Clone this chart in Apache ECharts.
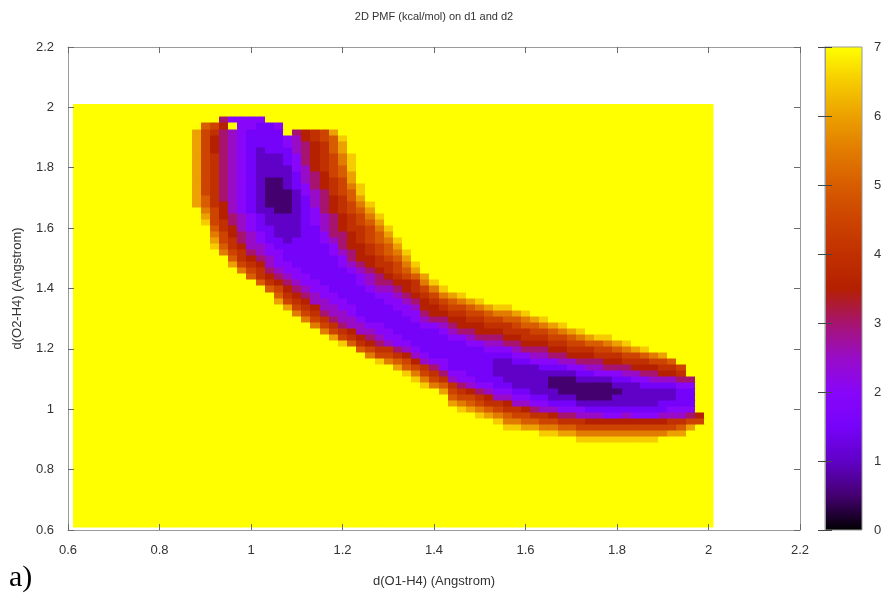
<!DOCTYPE html>
<html>
<head>
<meta charset="utf-8">
<script src="https://cdn.jsdelivr.net/npm/echarts@6/dist/echarts.min.js"></script>
<style>
  html, body { margin: 0; padding: 0; background: #ffffff; }
  #chart { width: 886px; height: 597px; }
</style>
</head>
<body>
<div id="chart"></div>
<script>
// ---------------------------------------------------------------------------
// Axis ticks
// ---------------------------------------------------------------------------
const d1Ticks = [0.6, 0.8, 1.0, 1.2, 1.4, 1.6, 1.8, 2.0, 2.2];   // d(O1-H4)
const d2Ticks = [0.6, 0.8, 1.0, 1.2, 1.4, 1.6, 1.8, 2.0, 2.2];   // d(O2-H4)
const pmfTicks = [0, 1, 2, 3, 4, 5, 6, 7];                      // kcal/mol

// ---------------------------------------------------------------------------
// PMF grid: 70 x 70 bins of 0.02 A, bin centres 0.62 ... 2.00 on both axes.
// Every bin outside the valley sits at the 7 kcal/mol cap.
// Bin values are coded in half kcal/mol: '0' = 0.0, '1' = 0.5 ... 'E' = 7.0
// ---------------------------------------------------------------------------
const pmfGridFirst = 0.62;
const pmfGridStep = 0.02;
const pmfGridCount = 70;
const pmfCap = 7;
const pmfCodes = "0123456789ABCDE";

// upper branch and bend, by rows: [d2, first d1 bin, codes along d1]
const upperArmRows = [
  [1.96, 0.94, "64444"],
  [1.94, 0.90, "A97E44334"],
  [1.92, 0.88, "C986543333E6789C"],
  [1.90, 0.88, "C97654333345789AD"],
  [1.88, 0.88, "C97654333345678AC"],
  [1.86, 0.88, "C97654323335678AC"],
  [1.84, 0.88, "C986543222346789BD"],
  [1.82, 0.88, "C986543222346789BD"],
  [1.80, 0.88, "C986543222245789AD"],
  [1.78, 0.88, "C986543222235679AC"],
  [1.76, 0.88, "C9865432112356789C"],
  [1.74, 0.88, "C9865432112346789BD"],
  [1.72, 0.88, "C9865432111245689AD"],
  [1.70, 0.88, "CA865432111235678AC"],
  [1.68, 0.88, "CA8754321112356789BD"],
  [1.66, 0.90, "B9754322112346789AC"],
  [1.64, 0.90, "C97654322223456789BD"],
  [1.62, 0.90, "D98654322223456789AC"],
  [1.60, 0.92, "A87543322233567889BD"],
  [1.58, 0.92, "B97654322233466789AC"],
  [1.56, 0.92, "C98654332333456789ABD"],
  [1.54, 0.92, "DA87554333333467789AC"],
  [1.52, 0.94, "B98654433333456789ABD"],
  [1.50, 0.96, "A87654333333467789AC"],
  [1.48, 0.96, "C987544333334567889BD"],
  [1.46, 0.98, "B98654433333456789AC"],
  [1.44, 1.00, "A87654433333456789AC"],
  [1.42, 1.02, "A8765443333456"],
  [1.40, 1.04, "A976544333345"],
  [1.38, 1.06, "A87654433334"],
  [1.36, 1.06, "C98755443333"],
  [1.34, 1.08, "C9875544333"],
  [1.32, 1.10, "B986554333"],
  [1.30, 1.12, "B98655433"],
  [1.28, 1.14, "B9865544"],
  [1.26, 1.16, "B987554"],
  [1.24, 1.18, "C98765"],
  [1.22, 1.20, "DA876"],
  [1.20, 1.24, "A98"],
  [1.18, 1.26, "B9"],
  [1.16, 1.28, "D"]
];

// lower branch, by columns: [d1, first d2 bin, codes along d2 upwards]
const lowerArmColumns = [
  [1.30, 1.16, "B9854433334456"],
  [1.32, 1.14, "CA8644333344567"],
  [1.34, 1.12, "DA97543333445677"],
  [1.36, 1.10, "DB975433334456788"],
  [1.38, 1.08, "DB985433334567789B"],
  [1.40, 1.08, "B986433333467789BD"],
  [1.42, 1.06, "CA86443333456789BD"],
  [1.44, 1.02, "CA985433333456789AC"],
  [1.46, 1.00, "DB9864433333467789BD"],
  [1.48, 1.00, "CA975433333456789AC"],
  [1.50, 0.98, "DB9864333333467789BD"],
  [1.52, 0.98, "CA875433333456789AC"],
  [1.54, 0.96, "DB9854332223456789BD"],
  [1.56, 0.94, "DBA875432222346788ABD"],
  [1.58, 0.94, "DB9854322223456789AC"],
  [1.60, 0.94, "CA975432222346788ABD"],
  [1.62, 0.94, "CA864322222456789AC"],
  [1.64, 0.92, "DB9854322223456789BD"],
  [1.66, 0.92, "DB975322112346789AC"],
  [1.68, 0.92, "CA864321112356789BD"],
  [1.70, 0.92, "CA86432111245789AC"],
  [1.72, 0.90, "DB985421112346789BD"],
  [1.74, 0.90, "DB97532111235678AC"],
  [1.76, 0.90, "DB97532111245689AD"],
  [1.78, 0.90, "DB97432111246789BD"],
  [1.80, 0.90, "DB9743221234678AC"],
  [1.82, 0.90, "DB9753222235689BD"],
  [1.84, 0.90, "DB9743222245789C"],
  [1.86, 0.90, "DB974322234678AD"],
  [1.88, 0.90, "DB974322235679B"],
  [1.90, 0.92, "B975332235789C"],
  [1.92, 0.92, "C98543223578A"],
  [1.94, 0.92, "CA8543334689"],
  [1.96, 0.94, "C96433346"],
  [1.98, 0.96, "97"]
];

// gnuplot default pm3d palette (rgbformulae 7,5,15), sampled every 0.5 kcal/mol
const pmfPalette = [
  "#000000", "#44006f", "#6001c7", "#7603f9", "#8806f9",
  "#980cc7", "#a7146f", "#b42000", "#c13000", "#cc4400",
  "#d85d00", "#e27c00", "#eca100", "#f6cc00", "#ffff00"
];

// ---------------------------------------------------------------------------
// Assemble the grid
// ---------------------------------------------------------------------------
function binIndex(v) { return Math.round((v - pmfGridFirst) / pmfGridStep); }
function decode(ch) { return pmfCodes.indexOf(ch) / 2; }

const pmf = [];
for (let j = 0; j < pmfGridCount; j++) {
  pmf.push(new Array(pmfGridCount).fill(pmfCap));
}
upperArmRows.forEach(([d2, d1First, codes]) => {
  const j = binIndex(d2), i0 = binIndex(d1First);
  for (let k = 0; k < codes.length; k++) pmf[j][i0 + k] = decode(codes[k]);
});
lowerArmColumns.forEach(([d1, d2First, codes]) => {
  const i = binIndex(d1), j0 = binIndex(d2First);
  for (let k = 0; k < codes.length; k++) pmf[j0 + k][i] = decode(codes[k]);
});

const cellData = [];
for (let j = 0; j < pmfGridCount; j++) {
  for (let i = 0; i < pmfGridCount; i++) {
    const d1 = +(pmfGridFirst + i * pmfGridStep).toFixed(2);
    const d2 = +(pmfGridFirst + j * pmfGridStep).toFixed(2);
    cellData.push([d1, d2, pmf[j][i]]);
  }
}

// ---------------------------------------------------------------------------
// Chart
// ---------------------------------------------------------------------------
const FONT = "'Liberation Sans', Arial, Helvetica, sans-serif";
const TEXT = "#333333";
const FRAME = "#9a9a9a";
const TICK = "#6a6a6a";
const halfBin = pmfGridStep / 2;
const step = v => Math.round((v[1] - v[0]) * 100) / 100;

const chart = echarts.init(document.getElementById('chart'), null, { renderer: 'canvas' });

const mainAxisCommon = {
  type: 'value',
  gridIndex: 0,
  splitLine: { show: false },
  axisLine: { show: true, onZero: false, lineStyle: { color: FRAME, width: 1 } },
  axisTick: { show: true, inside: true, length: 6, lineStyle: { color: TICK } },
  z: 5
};

chart.setOption({
  animation: false,
  backgroundColor: '#ffffff',
  textStyle: { fontFamily: FONT },
  grid: [
    { left: 68, top: 47, width: 732, height: 483, show: false },
    { left: 825, top: 47, width: 37, height: 483, show: false }
  ],
  xAxis: [
    Object.assign({}, mainAxisCommon, {
      position: 'bottom',
      min: d1Ticks[0], max: d1Ticks[d1Ticks.length - 1], interval: step(d1Ticks),
      axisLabel: { margin: 14, color: TEXT, fontSize: 13, fontFamily: FONT },
      name: 'd(O1-H4) (Angstrom)',
      nameLocation: 'middle',
      nameGap: 45,
      nameTextStyle: { color: TEXT, fontSize: 13, fontFamily: FONT }
    }),
    Object.assign({}, mainAxisCommon, {
      position: 'top',
      min: d1Ticks[0], max: d1Ticks[d1Ticks.length - 1], interval: step(d1Ticks),
      axisLabel: { show: false }
    }),
    {
      type: 'value', gridIndex: 1, min: 0, max: 1, show: false
    }
  ],
  yAxis: [
    Object.assign({}, mainAxisCommon, {
      position: 'left',
      min: d2Ticks[0], max: d2Ticks[d2Ticks.length - 1], interval: step(d2Ticks),
      axisLabel: { margin: 14, color: TEXT, fontSize: 13, fontFamily: FONT },
      name: 'd(O2-H4) (Angstrom)',
      nameLocation: 'middle',
      nameGap: 44,
      nameRotate: 90,
      nameTextStyle: { color: TEXT, fontSize: 13, fontFamily: FONT }
    }),
    Object.assign({}, mainAxisCommon, {
      position: 'right',
      min: d2Ticks[0], max: d2Ticks[d2Ticks.length - 1], interval: step(d2Ticks),
      axisLabel: { show: false }
    }),
    {
      type: 'value', gridIndex: 1, position: 'right',
      min: pmfTicks[0], max: pmfTicks[pmfTicks.length - 1], interval: step(pmfTicks),
      splitLine: { show: false },
      axisLine: { show: true, lineStyle: { color: FRAME } },
      axisTick: { show: true, inside: true, length: 7, lineStyle: { color: '#444444' } },
      axisLabel: { margin: 12, color: TEXT, fontSize: 13, fontFamily: FONT },
      z: 5
    },
    {
      type: 'value', gridIndex: 1, position: 'left',
      min: pmfTicks[0], max: pmfTicks[pmfTicks.length - 1], interval: step(pmfTicks),
      splitLine: { show: false },
      axisLine: { show: true, lineStyle: { color: FRAME } },
      axisTick: { show: true, inside: true, length: 7, lineStyle: { color: '#444444' } },
      axisLabel: { show: false },
      z: 5
    }
  ],
  visualMap: {
    type: 'continuous',
    show: false,
    seriesIndex: 0,
    dimension: 2,
    min: pmfTicks[0],
    max: pmfTicks[pmfTicks.length - 1],
    inRange: { color: pmfPalette }
  },
  graphic: [
    {
      type: 'text',
      x: 434, y: 17,
      style: {
        text: '2D PMF (kcal/mol) on d1 and d2',
        fill: TEXT, font: '11px ' + FONT,
        align: 'center', verticalAlign: 'middle'
      }
    },
    {
      type: 'text',
      x: 9, y: 578,
      style: {
        text: 'a)', fill: '#000000',
        font: '30px "Liberation Serif", "Times New Roman", serif',
        align: 'left', verticalAlign: 'middle'
      }
    }
  ],
  series: [
    {
      type: 'custom',
      name: 'PMF',
      xAxisIndex: 0,
      yAxisIndex: 0,
      encode: { x: 0, y: 1 },
      data: cellData,
      renderItem: function (params, api) {
        const d1 = api.value(0), d2 = api.value(1);
        const a = api.coord([d1 - halfBin, d2 + halfBin]);
        const b = api.coord([d1 + halfBin, d2 - halfBin]);
        const x0 = Math.round(a[0]), y0 = Math.round(a[1]);
        const x1 = Math.round(b[0]), y1 = Math.round(b[1]);
        return {
          type: 'rect',
          shape: { x: x0, y: y0, width: x1 - x0 + 0.5, height: y1 - y0 + 0.5 },
          style: { fill: api.visual('color') }
        };
      }
    },
    {
      type: 'custom',
      name: 'colour box',
      xAxisIndex: 2,
      yAxisIndex: 2,
      data: [[0, pmfTicks[0]]],
      renderItem: function (params, api) {
        const top = api.coord([0, pmfTicks[pmfTicks.length - 1]]);
        const bottom = api.coord([1, pmfTicks[0]]);
        const stops = pmfPalette.map((c, k) => ({ offset: k / (pmfPalette.length - 1), color: c }));
        return {
          type: 'rect',
          shape: { x: top[0], y: top[1], width: bottom[0] - top[0], height: bottom[1] - top[1] },
          style: {
            fill: new echarts.graphic.LinearGradient(0, 1, 0, 0, stops),
            stroke: FRAME, lineWidth: 1
          }
        };
      }
    }
  ]
});
</script>
</body>
</html>
